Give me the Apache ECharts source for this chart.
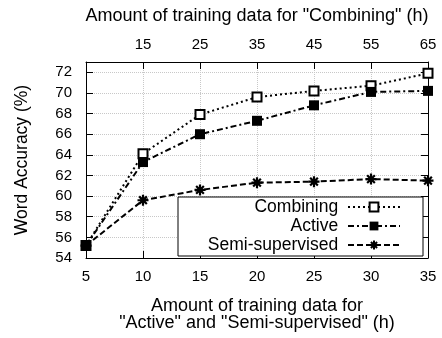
<!DOCTYPE html>
<html>
<head>
<meta charset="utf-8">
<script src="https://cdn.jsdelivr.net/npm/echarts@6/dist/echarts.min.js"></script>
<style>html,body{margin:0;padding:0;background:#fff;}#c{width:442px;height:338px;}</style>
</head>
<body>
<div id="c"></div>
<script>
// Hours of training data (bottom axis: Active / Semi-supervised)
var hoursBottom = [5, 10, 15, 20, 25, 30, 35];
// Hours of training data (top axis: Combining)
var hoursTop = [5, 15, 25, 35, 45, 55, 65];
var combining = [55.2, 64.1, 67.9, 69.6, 70.2, 70.7, 71.9];
var active = [55.2, 63.3, 66.0, 67.3, 68.8, 70.1, 70.2];
var semi = [55.2, 59.6, 60.6, 61.3, 61.4, 61.65, 61.5];
var seriesNames = ['Combining', 'Active', 'Semi-supervised'];

function pairs(xs, ys) { return xs.map(function (x, i) { return [x, ys[i]]; }); }

var FONT = 'Liberation Sans, Arial, Helvetica, sans-serif';
var grid = { type: 'dotted', color: '#c8c8c8', width: 1 };
var asterisk = 'path://M0,5L10,5M5,0L5,10M1.5,1.5L8.5,8.5M8.5,1.5L1.5,8.5';

var chart = echarts.init(document.getElementById('c'), null, { renderer: 'canvas' });
chart.setOption({
  animation: false,
  backgroundColor: '#fff',
  textStyle: { fontFamily: FONT, color: '#000' },
  grid: { left: 86, right: 14, top: 62, bottom: 80, outerBoundsMode: 'none' },
  legend: {
    orient: 'vertical',
    align: 'right',
    right: 19,
    top: 197,
    backgroundColor: '#fff',
    borderColor: '#000',
    borderWidth: 1,
    borderRadius: 0,
    padding: [1, 22, 2, 5],
    itemWidth: 52,
    itemHeight: 11,
    itemGap: 1,
    formatter: function (n) { return n + ' '; },
    textStyle: { fontFamily: FONT, fontSize: 17.5, color: '#000', width: 160, lineHeight: 17 },
    data: seriesNames
  },
  xAxis: [
    {
      type: 'value', position: 'bottom', min: 5, max: 35, interval: 5,
      name: 'Amount of training data for\n"Active" and "Semi-supervised" (h)',
      nameLocation: 'middle', nameGap: 40,
      nameTextStyle: { fontFamily: FONT, fontSize: 18, color: '#000', lineHeight: 17 },
      axisLine: { show: true, lineStyle: { color: '#000', width: 1 } },
      axisTick: { show: true, inside: true, length: 7, lineStyle: { color: '#000' } },
      axisLabel: { fontFamily: FONT, fontSize: 15, color: '#000', margin: 11 },
      splitLine: { show: true, lineStyle: grid }
    },
    {
      type: 'value', position: 'top', min: 5, max: 65, interval: 10,
      name: 'Amount of training data for "Combining" (h)',
      nameLocation: 'middle', nameGap: 37,
      nameTextStyle: { fontFamily: FONT, fontSize: 18, color: '#000' },
      axisLine: { show: true, lineStyle: { color: '#000', width: 1 } },
      axisTick: { show: true, inside: true, length: 7, lineStyle: { color: '#000' } },
      axisLabel: { fontFamily: FONT, fontSize: 15, color: '#000', margin: 10, showMinLabel: false },
      splitLine: { show: false }
    }
  ],
  yAxis: [
    {
      type: 'value', position: 'left', min: 54, max: 73, interval: 2,
      name: 'Word Accuracy (%)', nameLocation: 'middle', nameGap: 55, nameRotate: 90,
      nameTextStyle: { fontFamily: FONT, fontSize: 17.5, color: '#000' },
      axisLine: { show: true, lineStyle: { color: '#000', width: 1 } },
      axisTick: { show: true, inside: true, length: 7, lineStyle: { color: '#000' } },
      axisLabel: { fontFamily: FONT, fontSize: 15, color: '#000', margin: 14, showMaxLabel: false },
      splitLine: { show: true, lineStyle: grid }
    },
    {
      type: 'value', position: 'right', min: 54, max: 73, interval: 2,
      axisLine: { show: true, lineStyle: { color: '#000', width: 1 } },
      axisTick: { show: true, inside: true, length: 7, lineStyle: { color: '#000' } },
      axisLabel: { show: false },
      splitLine: { show: false }
    }
  ],
  series: [
    {
      name: seriesNames[0], type: 'line', xAxisIndex: 1, yAxisIndex: 0,
      data: pairs(hoursTop, combining),
      symbol: 'rect', symbolSize: 9,
      lineStyle: { color: '#000', width: 2, type: [2, 3] },
      itemStyle: { color: '#fff', borderColor: '#000', borderWidth: 2 },
      z: 2
    },
    {
      name: seriesNames[2], type: 'line', xAxisIndex: 0, yAxisIndex: 0,
      data: pairs(hoursBottom, semi),
      symbol: asterisk, symbolSize: 11,
      lineStyle: { color: '#000', width: 2, type: [6, 3] },
      itemStyle: { color: '#000', borderColor: '#000', borderWidth: 2.2 },
      z: 3
    },
    {
      name: seriesNames[1], type: 'line', xAxisIndex: 0, yAxisIndex: 0,
      data: pairs(hoursBottom, active),
      symbol: 'rect', symbolSize: 10,
      lineStyle: { color: '#000', width: 2, type: [6, 3, 2, 3] },
      itemStyle: { color: '#000', borderColor: '#000', borderWidth: 0 },
      z: 4
    }
  ]
});
</script>
</body>
</html>
